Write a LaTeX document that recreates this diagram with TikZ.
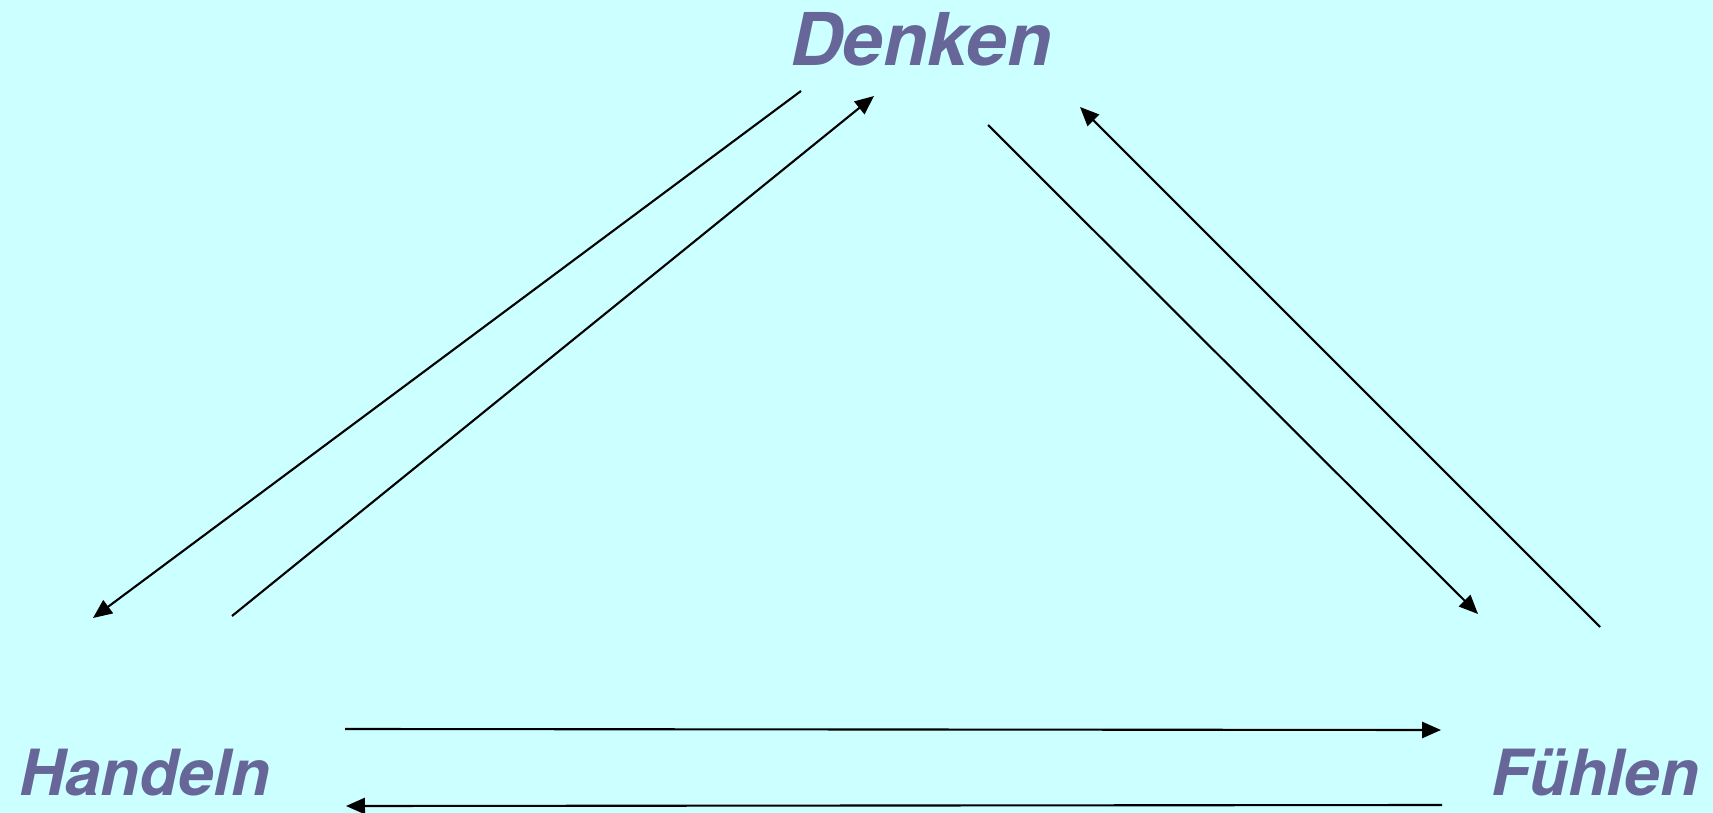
\documentclass[tikz,border=0pt]{standalone}
\usepackage{fontspec}
\newfontfamily\wordfont{TeX Gyre Heros}
\usetikzlibrary{arrows.meta}
\definecolor{bgcyan}{HTML}{CCFFFF}
\definecolor{wordblue}{HTML}{666699}
\tikzset{
  word/.style={anchor=base,inner sep=0pt,text=wordblue,
    font=\wordfont\bfseries\itshape\fontsize{20.7}{24}\selectfont},
  smallword/.style={word,font=\wordfont\bfseries\itshape\fontsize{18.1}{22}\selectfont},
  link/.style={line width=0.6pt,-{Triangle[length=5.4pt,width=4.6pt]}}
}
\begin{document}
\begin{tikzpicture}[x=0.01cm,y=-0.01cm]
        \fill[bgcyan] (0,0) rectangle (1713,813) ;
        \useasboundingbox (0,0) rectangle (1713,813) ;
        % the three words
        \node[word] (denken) at (921,66) {Denken} ;
        \node[smallword] (handeln) at (145,795) {Handeln} ;
        \node[smallword] (fuehlen) at (1595,795) {Fühlen} ;
        % ends of the arrows
        \coordinate (dh1) at (801,91) ; \coordinate (dh2) at (93,618) ;
        \coordinate (hd1) at (232,616) ; \coordinate (hd2) at (874,96) ;
        \coordinate (df1) at (988,125) ; \coordinate (df2) at (1478,614) ;
        \coordinate (fd1) at (1600,627) ; \coordinate (fd2) at (1080,107) ;
        \coordinate (hf1) at (345,729) ; \coordinate (hf2) at (1441,730) ;
        \coordinate (fh1) at (1442,805) ; \coordinate (fh2) at (346,806) ;
        \draw[link] (dh1) -- (dh2) ;
        \draw[link] (hd1) -- (hd2) ;
        \draw[link] (df1) -- (df2) ;
        \draw[link] (fd1) -- (fd2) ;
        \draw[link] (hf1) -- (hf2) ;
        \draw[link] (fh1) -- (fh2) ;
\end{tikzpicture}
\end{document}
